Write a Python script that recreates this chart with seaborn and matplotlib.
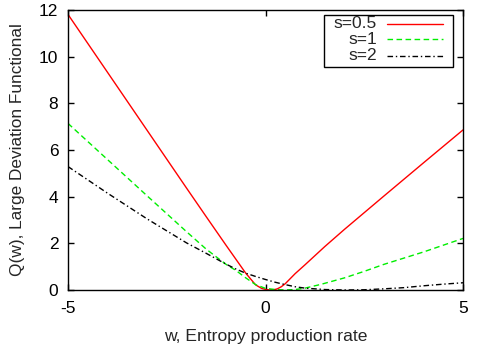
import numpy as np
import pandas as pd
import matplotlib
matplotlib.use("Agg")
import matplotlib.pyplot as plt
from matplotlib.patches import Rectangle
import seaborn as sns

# Data
w_red = [-5, -4, -3, -2, -1.5, -1, -0.75, -0.5, -0.25, -0.1, 0, 0.1, 0.2, 0.3, 0.4, 0.5, 0.75, 1, 1.25, 1.5, 2, 3, 4, 5]
q_red = [11.81, 9.33, 6.85, 4.37, 3.14, 1.92, 1.32, 0.72, 0.22, 0.07, 0.025, 0.003, 0.005, 0.05, 0.14, 0.27, 0.7, 1.08, 1.47, 1.86, 2.6, 4.03, 5.45, 6.86]

w_green = [-5, -4, -3, -2, -1.5, -1, -0.75, -0.5, -0.25, 0, 0.25, 0.5, 0.75, 1, 1.4, 2, 2.5, 3, 4, 5]
q_green = [7.14, 5.59, 4.04, 2.5, 1.75, 1.1, 0.84, 0.52, 0.23, 0.07, 0.02, 0.0, 0.02, 0.08, 0.24, 0.52, 0.8, 1.1, 1.63, 2.21]

w_black = [-5, -4, -3, -2, -1.5, -1, -0.75, -0.5, -0.25, 0, 0.25, 0.5, 0.75, 1, 1.5, 2, 2.5, 3, 3.5, 4, 4.5, 5]
q_black = [5.29, 4.15, 3.05, 2.02, 1.57, 1.11, 0.9, 0.72, 0.58, 0.45, 0.33, 0.23, 0.14, 0.08, 0.02, 0.0, 0.01, 0.05, 0.1, 0.18, 0.25, 0.31]

series_labels = ["s=0.5", "s=1", "s=2"]
x_ticks = [-5, 0, 5]
y_ticks = [0, 2, 4, 6, 8, 10, 12]

df = pd.concat([
    pd.DataFrame({"w": w_red, "Q": q_red, "s": series_labels[0]}),
    pd.DataFrame({"w": w_green, "Q": q_green, "s": series_labels[1]}),
    pd.DataFrame({"w": w_black, "Q": q_black, "s": series_labels[2]}),
], ignore_index=True)

sns.set_style("ticks")
plt.rcParams["font.family"] = ["Liberation Sans", "DejaVu Sans"]

fig = plt.figure(figsize=(4.82, 3.48), dpi=100)
ax = fig.add_axes([68 / 482, 1 - 290 / 348, (463 - 68) / 482, (290 - 10) / 348])

colors = {"s=0.5": "#ff0000", "s=1": "#00ee00", "s=2": "#000000"}
dashes = {"s=0.5": "", "s=1": (4, 2.5), "s=2": (4, 2, 1, 2)}
sns.lineplot(data=df, x="w", y="Q", hue="s", style="s", palette=colors,
             dashes=dashes, sort=False, linewidth=1.0, ax=ax, legend=False)

ax.set_xlim(-5, 5)
ax.set_ylim(0, 12)
ax.set_xticks(x_ticks)
ax.set_yticks(y_ticks)
ax.set_xticklabels([str(t) for t in x_ticks])
ax.set_yticklabels([str(t) for t in y_ticks])
ax.tick_params(direction="in", length=4, width=1, top=True, right=True,
               labelsize=12.5, colors="black")
ax.tick_params(axis="x", pad=8)
ax.tick_params(axis="y", pad=7)
for sp in ax.spines.values():
    sp.set_visible(True)
    sp.set_color("black")
    sp.set_linewidth(1.0)

ax.set_xlabel("w, Entropy production rate", fontsize=12.6, labelpad=9)
ax.set_ylabel("Q(w), Large Deviation Functional", fontsize=12.4)
ax.yaxis.set_label_coords(-0.108, 0.5)

# gnuplot-style key: right-aligned labels followed by line samples
key_left, key_right = (324 - 68) / 395, (453 - 68) / 395
key_top, key_bottom = (290 - 15) / 280, (290 - 67) / 280
ax.add_patch(Rectangle((key_left, key_bottom), key_right - key_left, key_top - key_bottom,
                       transform=ax.transAxes, fill=False, edgecolor="black",
                       linewidth=1.0, zorder=5, clip_on=False))
row_y = [(290 - 23.5) / 280, (290 - 39) / 280, (290 - 56) / 280]
text_right = (377 - 68) / 395
line_x0, line_x1 = (387 - 68) / 395, (443 - 68) / 395
for lab, yy in zip(series_labels, row_y):
    ax.text(text_right, yy, lab, transform=ax.transAxes, ha="right", va="center",
            fontsize=12.5, zorder=6)
    ls = "-" if dashes[lab] == "" else (0, dashes[lab])
    ax.plot([line_x0, line_x1], [yy, yy], transform=ax.transAxes, color=colors[lab],
            linestyle=ls, linewidth=1.0, zorder=6, clip_on=False)

fig.savefig("out.png", dpi=100)
